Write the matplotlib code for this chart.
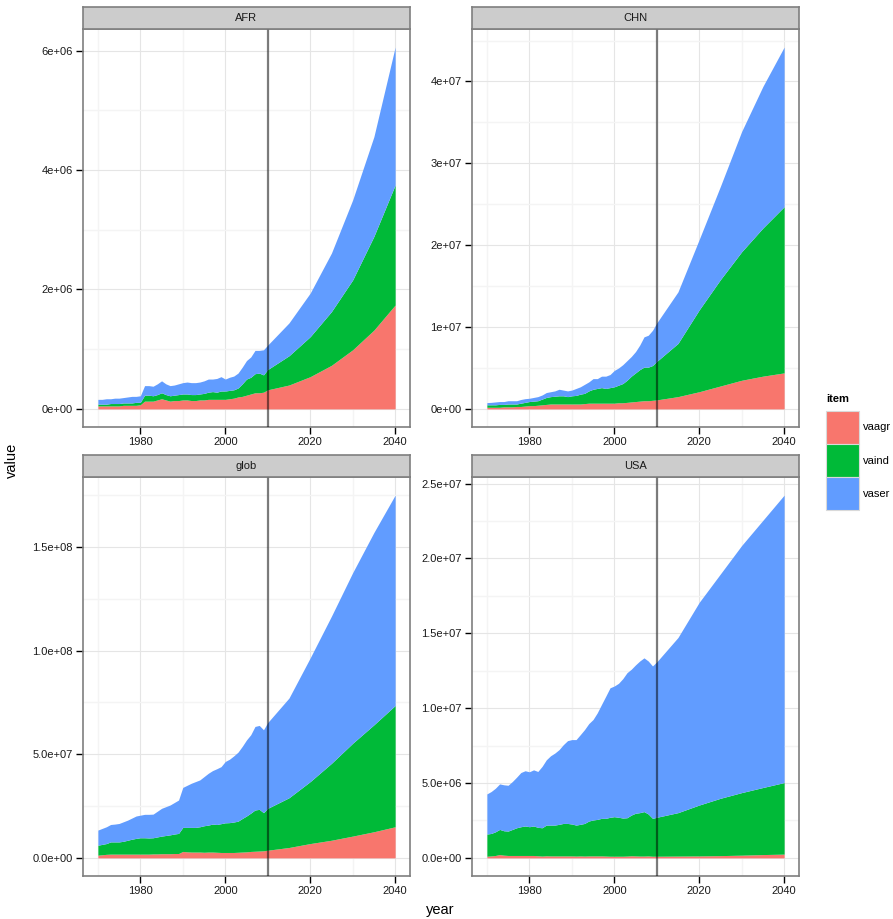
import matplotlib.pyplot as plt
from matplotlib.patches import Patch

plt.rcParams['font.family'] = ['Liberation Sans', 'DejaVu Sans']

# years: annual history, then 5-year projections
years = list(range(1970, 2011)) + [2015, 2020, 2025, 2030, 2035, 2040]
items = ["vaagr", "vaind", "vaser"]
colors = ["#F8766D", "#00BA38", "#619CFF"]

# AFR, in 1e6
afr_agr = [.05, .05, .05, .05, .05, .05, .06, .06, .06, .06, .07, .13, .13, .13, .15, .17, .15, .13, .14, .14,
           .15, .15, .14, .14, .15, .15, .16, .16, .16, .16, .16, .17, .18, .20, .21, .23, .25, .27, .27, .28,
           .32, .40, .54, .73, .99, 1.32, 1.74]
afr_ind = [.03, .03, .03, .04, .04, .04, .04, .04, .04, .05, .04, .10, .10, .09, .09, .10, .09, .09, .09, .10,
           .10, .10, .10, .10, .10, .11, .12, .13, .12, .14, .14, .14, .14, .15, .21, .27, .28, .32, .33, .29,
           .34, .49, .67, .90, 1.17, 1.57, 2.01]
afr_ser = [.08, .08, .09, .08, .09, .09, .09, .10, .11, .10, .11, .16, .16, .16, .18, .20, .18, .17, .17, .18,
           .19, .20, .20, .20, .20, .21, .22, .21, .23, .24, .20, .22, .23, .25, .28, .31, .34, .39, .38, .42,
           .41, .55, .73, .98, 1.34, 1.67, 2.31]

# CHN, in 1e7
chn_agr = [.02, .02, .02, .02, .025, .025, .025, .03, .03, .035, .04, .04, .045, .05, .055, .06, .06, .06, .06, .06,
           .06, .06, .06, .065, .07, .07, .07, .07, .07, .07, .07, .075, .075, .08, .085, .09, .095, .10, .10, .105,
           .11, .15, .21, .28, .35, .40, .44]
chn_ind = [.03, .03, .03, .035, .03, .035, .035, .03, .04, .045, .05, .055, .055, .07, .085, .09, .095, .10, .10, .09,
           .10, .105, .12, .125, .15, .17, .18, .19, .18, .19, .20, .215, .235, .27, .315, .35, .385, .41, .41, .425,
           .47, .65, 1.00, 1.30, 1.57, 1.81, 2.03]
chn_ser = [.027, .03, .035, .035, .035, .04, .04, .04, .045, .045, .04, .045, .05, .05, .06, .06, .065, .08, .07, .07,
           .07, .085, .09, .11, .11, .13, .12, .14, .15, .16, .20, .21, .23, .24, .24, .26, .30, .37, .39, .43,
           .47, .63, .86, 1.14, 1.47, 1.73, 1.95]

# glob, in 1e7
glob_agr = [.13, .15, .17, .18, .18, .18, .18, .18, .18, .18, .18, .18, .18, .19, .19, .20, .20, .20, .21, .21,
            .31, .29, .28, .28, .28, .27, .28, .28, .27, .26, .26, .26, .26, .27, .28, .29, .31, .32, .33, .34,
            .37, .50, .69, .85, 1.05, 1.26, 1.50]
glob_ind = [.48, .50, .52, .59, .59, .59, .62, .67, .72, .76, .79, .79, .78, .78, .82, .85, .88, .91, .94, .97,
            1.16, 1.18, 1.19, 1.19, 1.22, 1.28, 1.30, 1.35, 1.34, 1.39, 1.43, 1.44, 1.47, 1.50, 1.62, 1.73, 1.85,
            1.99, 2.01, 1.84, 2.02, 2.40, 2.99, 3.71, 4.48, 5.16, 5.85]
glob_ser = [.73, .77, .81, .84, .86, .89, .94, .97, 1.02, 1.08, 1.09, 1.13, 1.14, 1.14, 1.24, 1.34, 1.39, 1.44,
            1.52, 1.61, 1.93, 2.03, 2.13, 2.21, 2.26, 2.37, 2.50, 2.58, 2.69, 2.75, 2.96, 3.06, 3.19, 3.33, 3.48,
            3.67, 3.78, 4.03, 4.05, 4.00, 4.14, 4.81, 5.97, 7.10, 8.23, 9.28, 10.15]

# USA, in 1e6
usa_agr = [.11, .13, .16, .22, .18, .16, .16, .16, .16, .16, .16, .16, .14, .12, .14, .13, .13, .13, .13, .13,
           .13, .12, .13, .12, .13, .13, .13, .13, .12, .11, .11, .11, .11, .12, .14, .13, .12, .12, .13, .11,
           .11, .12, .13, .15, .18, .22, .25]
usa_ind = [1.48, 1.50, 1.58, 1.68, 1.63, 1.63, 1.74, 1.85, 1.92, 1.97, 1.92, 1.97, 1.90, 1.89, 2.05, 2.06, 2.06,
           2.11, 2.17, 2.17, 2.13, 2.07, 2.11, 2.18, 2.33, 2.40, 2.44, 2.51, 2.52, 2.60, 2.64, 2.60, 2.55, 2.56,
           2.72, 2.85, 2.90, 2.97, 2.80, 2.53, 2.60, 2.90, 3.40, 3.83, 4.18, 4.48, 4.78]
usa_ser = [2.68, 2.80, 2.91, 3.04, 3.07, 3.06, 3.20, 3.38, 3.62, 3.69, 3.67, 3.75, 3.73, 4.10, 4.36, 4.63, 4.81,
           4.99, 5.26, 5.53, 5.64, 5.71, 5.99, 6.27, 6.51, 6.71, 7.12, 7.61, 8.16, 8.65, 8.73, 8.95, 9.31, 9.69,
           9.74, 9.91, 10.13, 10.27, 10.22, 10.18, 10.38, 11.70, 13.54, 14.99, 16.51, 17.85, 19.20]

regions = ["AFR", "CHN", "glob", "USA"]
series = {"AFR": (afr_agr, afr_ind, afr_ser, 1e6),
          "CHN": (chn_agr, chn_ind, chn_ser, 1e7),
          "glob": (glob_agr, glob_ind, glob_ser, 1e7),
          "USA": (usa_agr, usa_ind, usa_ser, 1e6)}
yticks = {"AFR": [0, 2e6, 4e6, 6e6],
          "CHN": [0, 1e7, 2e7, 3e7, 4e7],
          "glob": [0, 5e7, 1e8, 1.5e8],
          "USA": [0, 5e6, 1e7, 1.5e7, 2e7, 2.5e7]}
ylabels = {"AFR": ["0e+00", "2e+06", "4e+06", "6e+06"],
           "CHN": ["0e+00", "1e+07", "2e+07", "3e+07", "4e+07"],
           "glob": ["0.0e+00", "5.0e+07", "1.0e+08", "1.5e+08"],
           "USA": ["0.0e+00", "5.0e+06", "1.0e+07", "1.5e+07", "2.0e+07", "2.5e+07"]}
xticks = [1980, 2000, 2020, 2040]
xminor = [1970, 1990, 2010, 2030]

W, H = 893, 919
fig = plt.figure(figsize=(W / 100, H / 100), dpi=100)


def px_axes(x0, y0, x1, y1):
    return fig.add_axes([x0 / W, 1 - y1 / H, (x1 - x0) / W, (y1 - y0) / H])


boxes = {"AFR": (83, 29, 410, 427), "CHN": (472, 29, 799, 427),
         "glob": (83, 477, 410, 876), "USA": (472, 477, 799, 876)}
border = "#7f7f7f"

for reg in regions:
    x0, y0, x1, y1 = boxes[reg]
    ax = px_axes(x0, y0, x1, y1)
    agr, ind, ser, unit = series[reg]
    a = [v * unit for v in agr]
    b = [v * unit for v in ind]
    c = [v * unit for v in ser]
    ab = [p + q for p, q in zip(a, b)]
    tot = [p + q for p, q in zip(ab, c)]
    ax.fill_between(years, 0, a, color=colors[0], lw=0, zorder=2)
    ax.fill_between(years, a, ab, color=colors[1], lw=0, zorder=2)
    ax.fill_between(years, ab, tot, color=colors[2], lw=0, zorder=2)
    ax.axvline(2010, color="black", alpha=0.5, lw=1.6, zorder=3)

    top = max(tot)
    ax.set_xlim(1970 - 3.5, 2040 + 3.5)
    ax.set_xticks(xticks)
    ax.set_xticks(xminor, minor=True)
    yt = yticks[reg]
    step = yt[1] - yt[0]
    ax.set_yticks(yt)
    ax.set_yticklabels(ylabels[reg])
    ax.set_yticks([v + step / 2 for v in yt], minor=True)
    ax.set_ylim(-0.05 * top, top * 1.05)
    ax.grid(True, which="major", color="#e5e5e5", lw=0.8)
    ax.grid(True, which="minor", color="#f4f4f4", lw=1.0)
    ax.set_axisbelow(True)
    ax.tick_params(which="major", direction="out", length=5, width=1, color="black",
                   labelsize=8, labelcolor="#1a1a1a", pad=2.5)
    ax.tick_params(which="minor", length=0)
    for s in ax.spines.values():
        s.set_color(border)
        s.set_linewidth(1.2)

    st = px_axes(x0, y0 - 22, x1, y0)
    st.set_facecolor("#cccccc")
    st.set_xticks([])
    st.set_yticks([])
    for s in st.spines.values():
        s.set_color(border)
        s.set_linewidth(1.2)
    st.text(0.5, 0.5, reg, ha="center", va="center", fontsize=8, color="#1a1a1a",
            transform=st.transAxes)

fig.text(12 / W, 1 - 460 / H, "value", rotation=90, ha="center", va="center", fontsize=10.5)
fig.text(440 / W, 1 - 910 / H, "year", ha="center", va="center", fontsize=10.5)

# legend: keys stacked without gaps, title drawn above
handles = [Patch(facecolor=col, edgecolor="#d9d9d9", lw=0.8) for col in colors]
fig.legend(handles, items, loc="upper left", bbox_to_anchor=(826 / W, 1 - 411 / H),
           frameon=False, fontsize=8, handlelength=3.0, handleheight=4.2, labelspacing=0,
           handletextpad=0.35, borderaxespad=0, borderpad=0)
fig.text(826 / W, 1 - 399 / H, "item", ha="left", va="center", fontsize=8, fontweight="bold")

fig.savefig("out.png", dpi=100)
